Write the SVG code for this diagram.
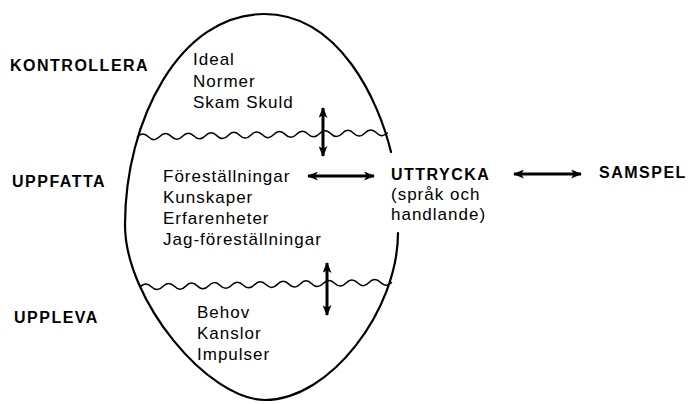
<svg xmlns="http://www.w3.org/2000/svg" width="694" height="404" viewBox="0 0 694 404">
  <style>
    .lbl { font-family: "Liberation Sans", Arial, sans-serif; font-weight: bold; font-size: 16px; letter-spacing: 1.5px; fill: #000; }
    .txt { font-family: "Liberation Sans", Arial, sans-serif; font-size: 17px; letter-spacing: 1px; fill: #000; }
    .egg { fill: none; stroke: #000; stroke-width: 2.2; stroke-linecap: round; }
    .wave { fill: none; stroke: #000; stroke-width: 1.5; }
    .arr { fill: none; stroke: #000; stroke-width: 3; }
  </style>
  <defs>
    <marker id="ah" viewBox="0 0 12 10" refX="11" refY="5" markerWidth="12" markerHeight="9" orient="auto-start-reverse" markerUnits="userSpaceOnUse">
      <path d="M0,0 L12,5 L0,10 L3,5 z" fill="#000"/>
    </marker>
  </defs>
  <rect width="694" height="404" fill="#fff"/>

  <g id="egg">
    <path class="egg" d="M391,152 C379,102 340,14 264,14 C180,14 125,120 125,225 C125,300 208,400 265,400 C330,400 398,310 398,233"/>
    <path class="wave" d="M137,137 q5.7,-6 11.4,-0.2 t11.4,-0.2 t11.4,-0.2 t11.4,-0.2 t11.4,-0.2 t11.4,-0.2 t11.4,-0.2 t11.4,-0.2 t11.4,-0.2 t11.4,-0.2 t11.4,-0.2 t11.4,-0.2 t11.4,-0.2 t11.4,-0.2 t11.4,-0.2 t11.4,-0.2 t11.4,-0.2 t11.4,-0.2 t11.4,-0.2 t11.4,-0.2 t11.4,-0.2 t11.4,-0.2"/>
    <path class="wave" d="M140,287 q5.7,-6 11.45,-0.22 t11.45,-0.22 t11.45,-0.22 t11.45,-0.22 t11.45,-0.22 t11.45,-0.22 t11.45,-0.22 t11.45,-0.22 t11.45,-0.22 t11.45,-0.22 t11.45,-0.22 t11.45,-0.22 t11.45,-0.22 t11.45,-0.22 t11.45,-0.22 t11.45,-0.22 t11.45,-0.22 t11.45,-0.22 t11.45,-0.22 t11.45,-0.22 t11.45,-0.22 t11.45,-0.22"/>
  </g>

  <g id="kontrollera">
    <text class="lbl" x="10" y="71">KONTROLLERA</text>
  </g>
  <g id="uppfatta">
    <text class="lbl" x="12" y="187">UPPFATTA</text>
  </g>
  <g id="uppleva">
    <text class="lbl" x="14" y="323">UPPLEVA</text>
  </g>

  <g id="ideal">
    <text class="txt" x="193" y="65">Ideal</text>
    <text class="txt" x="193" y="87">Normer</text>
    <text class="txt" x="193" y="108">Skam  Skuld</text>
  </g>
  <g id="forestallningar">
    <text class="txt" x="163" y="182">Föreställningar</text>
    <text class="txt" x="163" y="203">Kunskaper</text>
    <text class="txt" x="163" y="224">Erfarenheter</text>
    <text class="txt" x="163" y="245">Jag-föreställningar</text>
  </g>
  <g id="behov">
    <text class="txt" x="197" y="318">Behov</text>
    <text class="txt" x="197" y="339">Kanslor</text>
    <text class="txt" x="197" y="360">Impulser</text>
  </g>

  <g id="uttrycka">
    <text class="lbl" x="391" y="180">UTTRYCKA</text>
    <text class="txt" x="391" y="200">(språk och</text>
    <text class="txt" x="391" y="220">handlande)</text>
  </g>
  <g id="samspel">
    <text class="lbl" x="599" y="178">SAMSPEL</text>
  </g>

  <g id="connectors">
    <line class="arr" x1="323" y1="108" x2="323" y2="156" marker-start="url(#ah)" marker-end="url(#ah)"/>
    <line class="arr" x1="327" y1="263" x2="327" y2="315" marker-start="url(#ah)" marker-end="url(#ah)"/>
    <line class="arr" x1="308" y1="176" x2="374" y2="176" marker-start="url(#ah)" marker-end="url(#ah)"/>
    <line class="arr" x1="514" y1="174" x2="581" y2="174" marker-start="url(#ah)" marker-end="url(#ah)"/>
  </g>
</svg>
